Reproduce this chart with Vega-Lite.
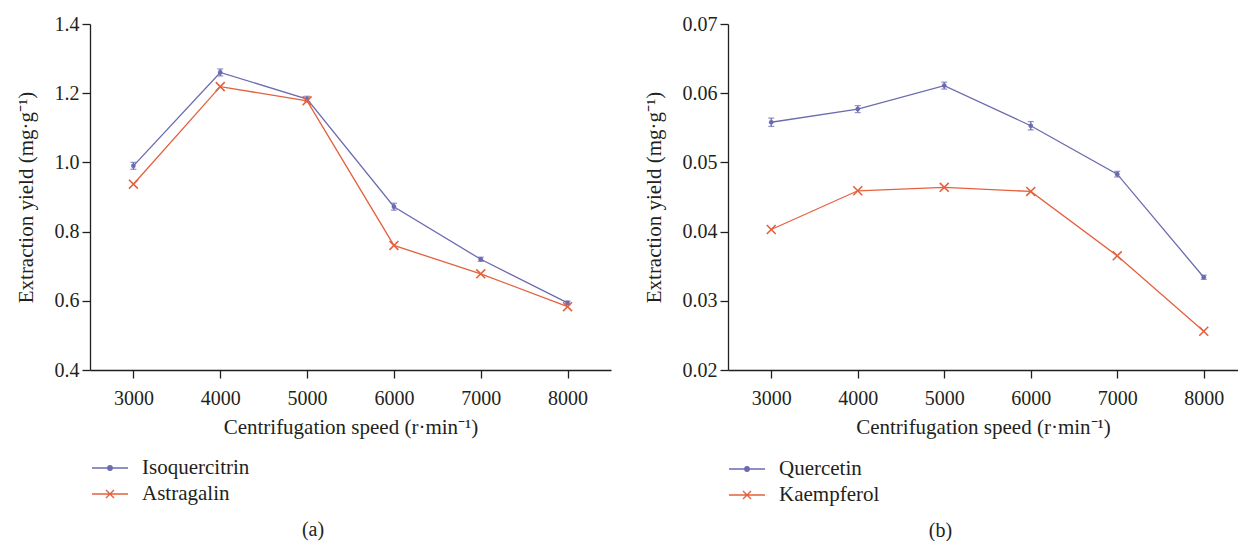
{
  "$schema": "https://vega.github.io/schema/vega-lite/v6.json",
  "background": "white",
  "padding": {"left": 15, "top": 14, "right": 0, "bottom": 0},
  "config": {
    "font": "Liberation Serif",
    "view": {"stroke": null},
    "axis": {
      "labelFont": "Liberation Serif", "titleFont": "Liberation Serif",
      "labelFontSize": 20, "titleFontSize": 21, "titleFontWeight": "normal",
      "labelColor": "#231f20", "titleColor": "#231f20",
      "domainColor": "#231f20", "tickColor": "#231f20",
      "domainWidth": 1.3, "tickWidth": 1.3, "tickSize": 8, "grid": false
    },
    "legend": {
      "orient": "none", "direction": "vertical", "title": null,
      "labelFont": "Liberation Serif", "labelFontSize": 21, "labelColor": "#231f20",
      "symbolSize": 400, "symbolStrokeWidth": 1.4, "labelOffset": 21, "rowPadding": 5,
      "padding": 0
    },
    "title": {"font": "Liberation Serif", "fontSize": 20, "fontWeight": "normal", "color": "#231f20"},
    "concat": {"spacing": 32}
  },
  "datasets": {
    "a": [
      {"series": "Isoquercitrin", "speed": 3000, "value": 0.990, "lo": 0.980, "hi": 1.000},
      {"series": "Isoquercitrin", "speed": 4000, "value": 1.260, "lo": 1.250, "hi": 1.270},
      {"series": "Isoquercitrin", "speed": 5000, "value": 1.183, "lo": 1.175, "hi": 1.191},
      {"series": "Isoquercitrin", "speed": 6000, "value": 0.872, "lo": 0.862, "hi": 0.882},
      {"series": "Isoquercitrin", "speed": 7000, "value": 0.720, "lo": 0.714, "hi": 0.726},
      {"series": "Isoquercitrin", "speed": 8000, "value": 0.594, "lo": 0.589, "hi": 0.599},
      {"series": "Astragalin", "speed": 3000, "value": 0.937, "lo": null, "hi": null},
      {"series": "Astragalin", "speed": 4000, "value": 1.219, "lo": null, "hi": null},
      {"series": "Astragalin", "speed": 5000, "value": 1.178, "lo": null, "hi": null},
      {"series": "Astragalin", "speed": 6000, "value": 0.760, "lo": null, "hi": null},
      {"series": "Astragalin", "speed": 7000, "value": 0.678, "lo": null, "hi": null},
      {"series": "Astragalin", "speed": 8000, "value": 0.583, "lo": null, "hi": null}
    ],
    "b": [
      {"series": "Quercetin", "speed": 3000, "value": 0.0558, "lo": 0.0552, "hi": 0.0564},
      {"series": "Quercetin", "speed": 4000, "value": 0.0577, "lo": 0.0572, "hi": 0.0582},
      {"series": "Quercetin", "speed": 5000, "value": 0.0611, "lo": 0.0606, "hi": 0.0616},
      {"series": "Quercetin", "speed": 6000, "value": 0.0553, "lo": 0.0547, "hi": 0.0559},
      {"series": "Quercetin", "speed": 7000, "value": 0.0483, "lo": 0.0479, "hi": 0.0487},
      {"series": "Quercetin", "speed": 8000, "value": 0.0334, "lo": 0.0331, "hi": 0.0337},
      {"series": "Kaempferol", "speed": 3000, "value": 0.0403, "lo": null, "hi": null},
      {"series": "Kaempferol", "speed": 4000, "value": 0.0459, "lo": null, "hi": null},
      {"series": "Kaempferol", "speed": 5000, "value": 0.0464, "lo": null, "hi": null},
      {"series": "Kaempferol", "speed": 6000, "value": 0.0458, "lo": null, "hi": null},
      {"series": "Kaempferol", "speed": 7000, "value": 0.0365, "lo": null, "hi": null},
      {"series": "Kaempferol", "speed": 8000, "value": 0.0256, "lo": null, "hi": null}
    ]
  },
  "hconcat": [
    {
      "width": 521, "height": 346,
      "data": {"name": "a"},
      "title": {"text": "(a)", "orient": "bottom", "anchor": "middle", "frame": "bounds", "offset": 16},
      "encoding": {
        "x": {"field": "speed", "type": "quantitative",
          "scale": {"domain": [2500, 8500], "nice": false, "zero": false},
          "axis": {"values": [3000, 4000, 5000, 6000, 7000, 8000], "format": "d", "title": "Centrifugation speed (r·min⁻¹)", "labelPadding": 10, "titlePadding": 8}},
        "y": {"field": "value", "type": "quantitative",
          "scale": {"domain": [0.4, 1.4], "nice": false, "zero": false},
          "axis": {"values": [0.4, 0.6, 0.8, 1.0, 1.2, 1.4], "format": ".1f", "title": "Extraction yield (mg·g⁻¹)", "labelPadding": 3, "titlePadding": 18}}
      },
      "layer": [
        {"mark": {"type": "line", "strokeWidth": 1.3},
          "encoding": {"color": {"field": "series", "type": "nominal", "scale": {"domain": ["Isoquercitrin", "Astragalin"], "range": ["#6b6bb0", "#e4613f"]},
            "legend": {"legendX": 9, "legendY": 433,
              "encode": {"symbols": {"update": {
                "shape": {"signal": "datum.index === 0 ? 'M-1.8,0H1.8M0.22,0A0.22,0.22,0,1,1,-0.22,0A0.22,0.22,0,1,1,0.22,0Z' : 'M-1.8,0H1.8M-0.4,-0.4L0.4,0.4M-0.4,0.4L0.4,-0.4'"},
                "fill": {"signal": "datum.index === 0 ? '#6b6bb0' : 'transparent'"},
                "strokeWidth": {"value": 1.4}}}}}}}},
        {"transform": [{"filter": "isValid(datum.lo)"}],
          "mark": {"type": "errorbar", "ticks": {"size": 6}, "color": "#6b6bb0", "thickness": 1.3},
          "encoding": {"y": {"field": "lo", "type": "quantitative"}, "y2": {"field": "hi"}}},
        {"transform": [{"filter": "datum.series === 'Isoquercitrin'"}],
          "mark": {"type": "point", "shape": "circle", "filled": true, "opacity": 1, "color": "#6b6bb0", "size": 22}},
        {"transform": [{"filter": "datum.series === 'Astragalin'"}],
          "mark": {"type": "point", "shape": "M-1,-1L1,1M-1,1L1,-1", "filled": false, "opacity": 1, "color": "#e4613f", "strokeWidth": 1.6, "size": 80}}
      ]
    },
    {
      "width": 510, "height": 346,
      "data": {"name": "b"},
      "title": {"text": "(b)", "orient": "bottom", "anchor": "middle", "frame": "bounds", "offset": 16},
      "encoding": {
        "x": {"field": "speed", "type": "quantitative",
          "scale": {"domain": [2500, 8396], "nice": false, "zero": false},
          "axis": {"values": [3000, 4000, 5000, 6000, 7000, 8000], "format": "d", "title": "Centrifugation speed (r·min⁻¹)", "labelPadding": 10, "titlePadding": 8}},
        "y": {"field": "value", "type": "quantitative",
          "scale": {"domain": [0.02, 0.07], "nice": false, "zero": false},
          "axis": {"values": [0.02, 0.03, 0.04, 0.05, 0.06, 0.07], "format": ".2f", "title": "Extraction yield (mg·g⁻¹)", "labelPadding": 3, "titlePadding": 18}}
      },
      "layer": [
        {"mark": {"type": "line", "strokeWidth": 1.3},
          "encoding": {"color": {"field": "series", "type": "nominal", "scale": {"domain": ["Quercetin", "Kaempferol"], "range": ["#6b6bb0", "#e4613f"]},
            "legend": {"legendX": 8, "legendY": 434,
              "encode": {"symbols": {"update": {
                "shape": {"signal": "datum.index === 0 ? 'M-1.8,0H1.8M0.22,0A0.22,0.22,0,1,1,-0.22,0A0.22,0.22,0,1,1,0.22,0Z' : 'M-1.8,0H1.8M-0.4,-0.4L0.4,0.4M-0.4,0.4L0.4,-0.4'"},
                "fill": {"signal": "datum.index === 0 ? '#6b6bb0' : 'transparent'"},
                "strokeWidth": {"value": 1.4}}}}}}}},
        {"transform": [{"filter": "isValid(datum.lo)"}],
          "mark": {"type": "errorbar", "ticks": {"size": 6}, "color": "#6b6bb0", "thickness": 1.3},
          "encoding": {"y": {"field": "lo", "type": "quantitative"}, "y2": {"field": "hi"}}},
        {"transform": [{"filter": "datum.series === 'Quercetin'"}],
          "mark": {"type": "point", "shape": "circle", "filled": true, "opacity": 1, "color": "#6b6bb0", "size": 22}},
        {"transform": [{"filter": "datum.series === 'Kaempferol'"}],
          "mark": {"type": "point", "shape": "M-1,-1L1,1M-1,1L1,-1", "filled": false, "opacity": 1, "color": "#e4613f", "strokeWidth": 1.6, "size": 80}}
      ]
    }
  ],
  "resolve": {"scale": {"color": "independent"}}
}
